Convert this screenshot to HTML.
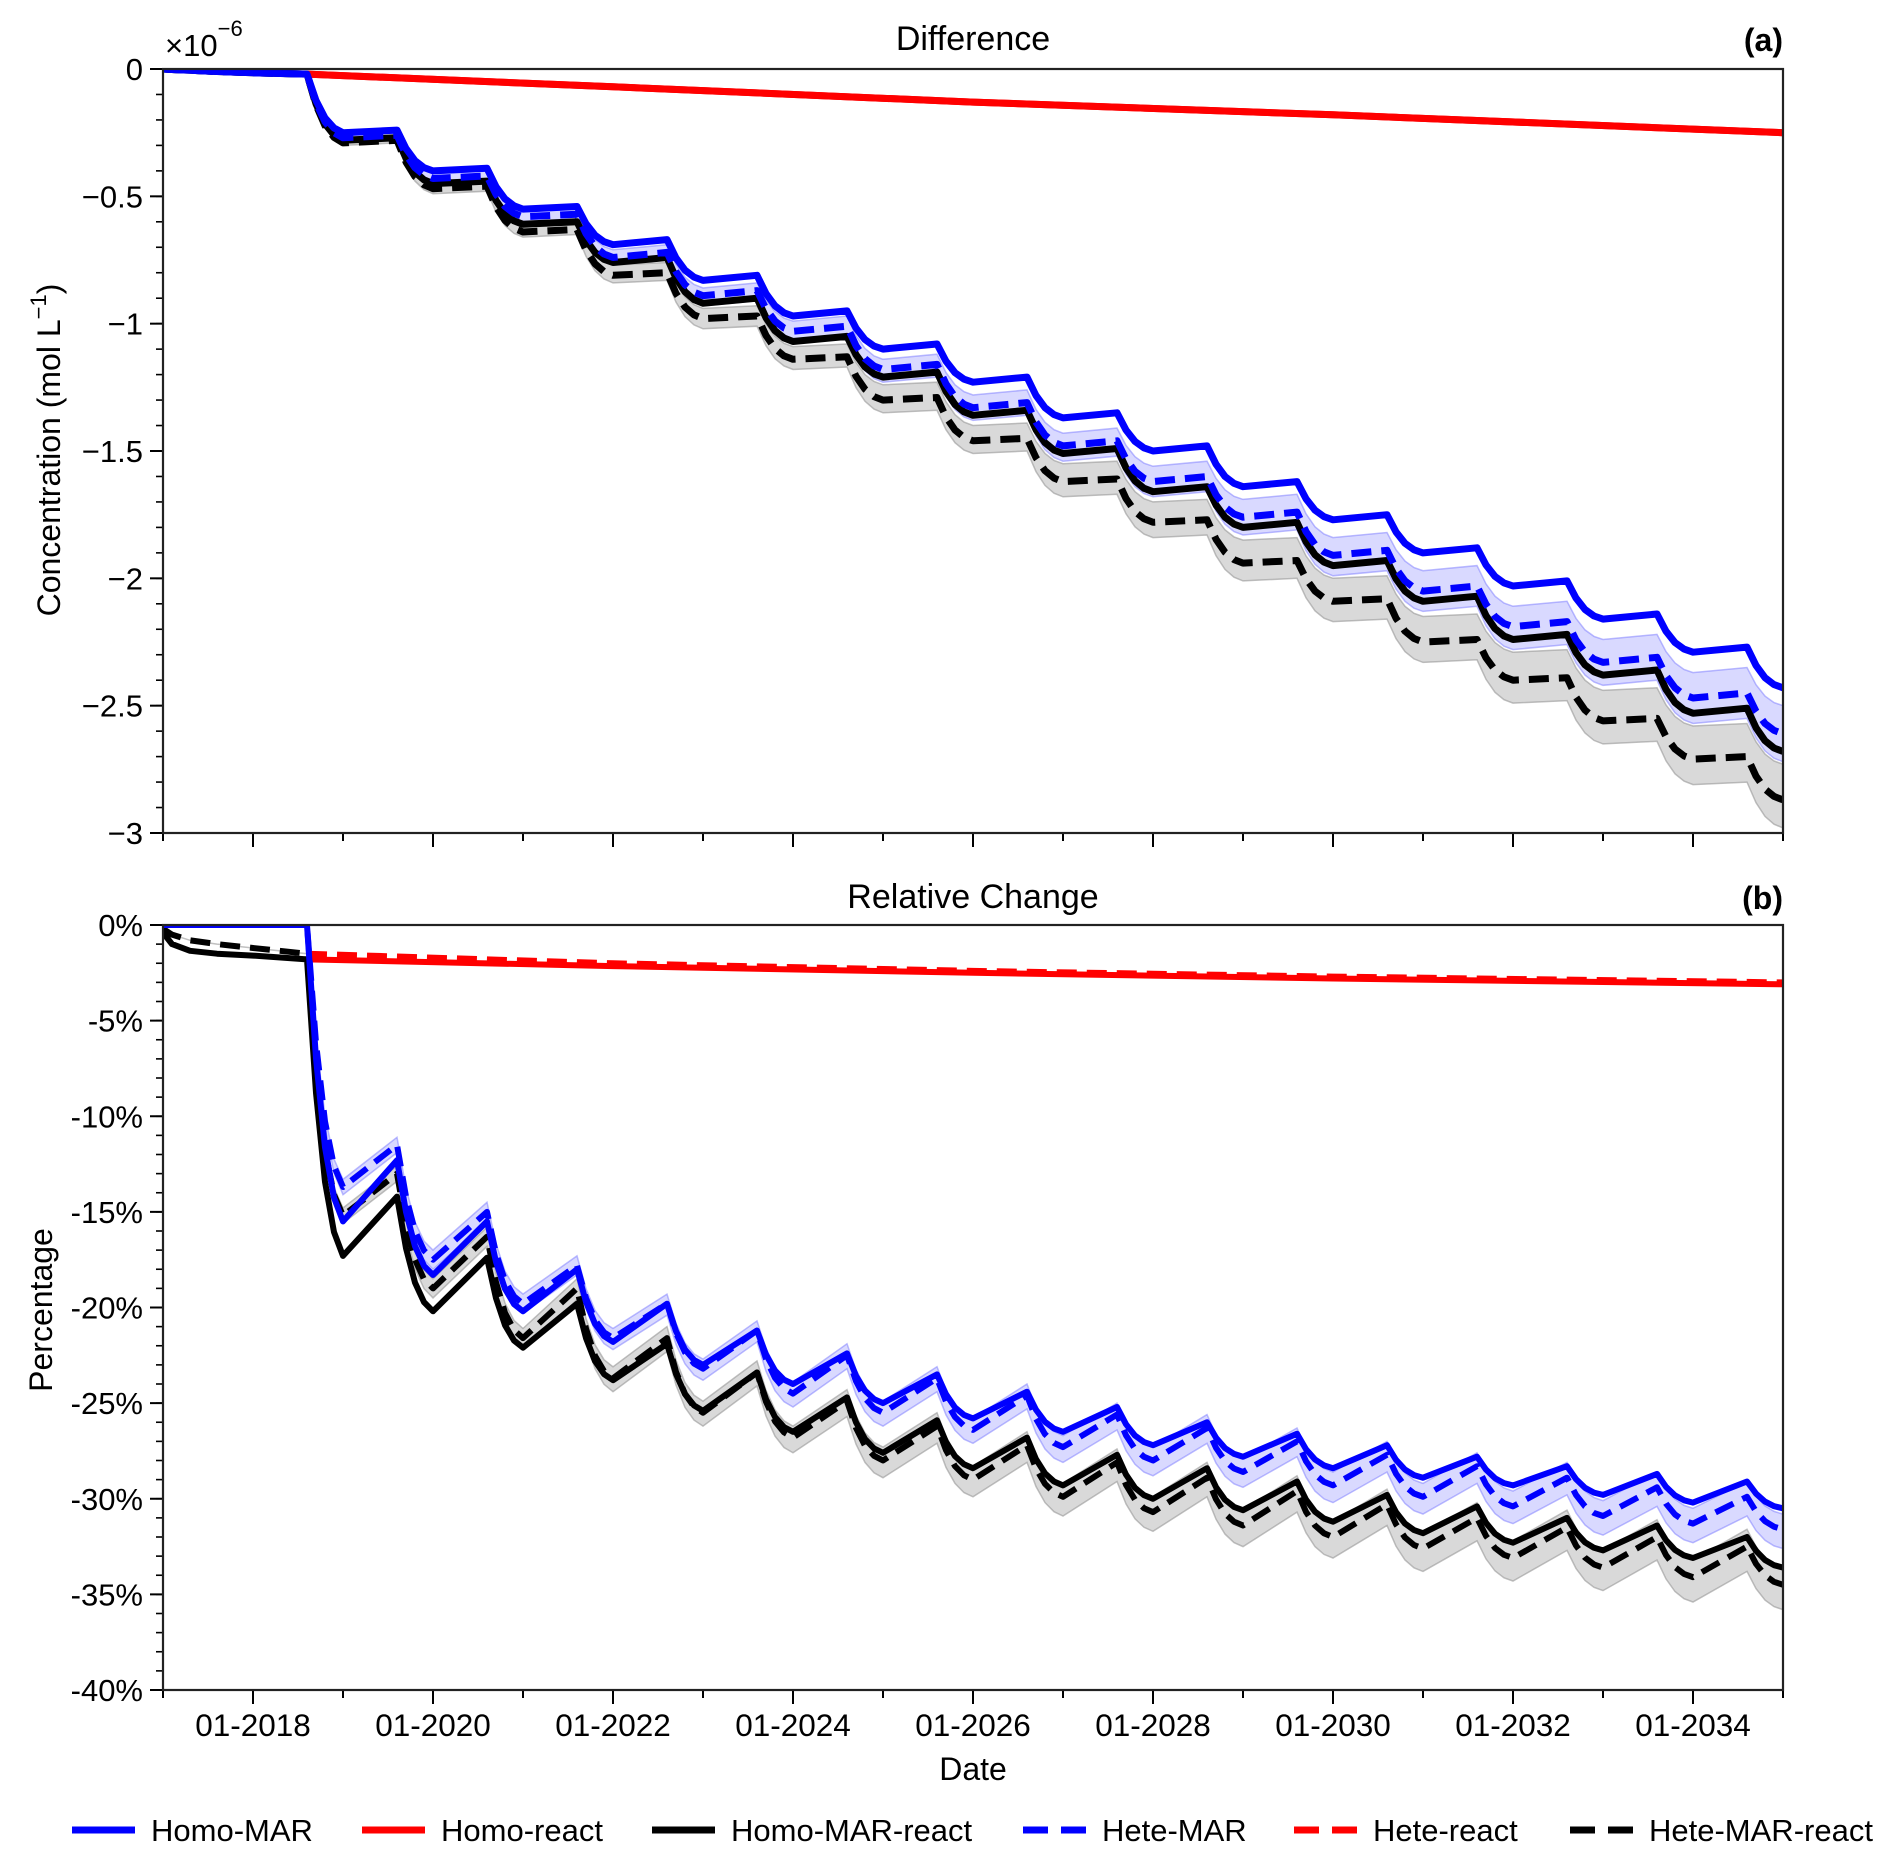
<!DOCTYPE html>
<html><head><meta charset="utf-8"><title>Difference and Relative Change</title>
<style>
html,body{margin:0;padding:0;background:#fff;}
svg{display:block;font-family:"Liberation Sans",Arial,sans-serif;}
</style></head>
<body>
<svg id="fig" width="1892" height="1860" viewBox="0 0 1892 1860" xmlns="http://www.w3.org/2000/svg">
<g id="panelA"></g>
<g id="panelB"></g>
<g id="legend"></g>
</svg>
<script>
// ---------- DATA ----------
const xTickYears = [2018,2020,2022,2024,2026,2028,2030,2032,2034];
const xTickLabels = ["01-2018","01-2020","01-2022","01-2024","01-2026","01-2028","01-2030","01-2032","01-2034"];
const preT = [2017,2017.1,2017.3,2017.6,2018.0,2018.6];
const minYears = [2019,2020,2021,2022,2023,2024,2025,2026,2027,2028,2029,2030,2031,2032,2033,2034,2035];
const peakYears = [2019.6,2020.6,2021.6,2022.6,2023.6,2024.6,2025.6,2026.6,2027.6,2028.6,2029.6,2030.6,2031.6,2032.6,2033.6,2034.6];

// Panel (a) : x1e-6 mol/L
const aTickVals = [0,-0.5,-1,-1.5,-2,-2.5,-3];
const aTickLabels = ["0","\u22120.5","\u22121","\u22121.5","\u22122","\u22122.5","\u22123"];
const aPre = [0,-0.002,-0.005,-0.01,-0.015,-0.02];
const aHomoMarMin  = [-0.25,-0.40,-0.55,-0.69,-0.83,-0.97,-1.10,-1.23,-1.37,-1.50,-1.64,-1.77,-1.90,-2.03,-2.16,-2.29,-2.43];
const aHomoMarPeak = [-0.24,-0.39,-0.54,-0.67,-0.81,-0.95,-1.08,-1.21,-1.35,-1.48,-1.62,-1.75,-1.88,-2.01,-2.14,-2.27];
const aHeteMarMin  = [-0.27,-0.43,-0.58,-0.74,-0.89,-1.03,-1.18,-1.33,-1.48,-1.62,-1.76,-1.91,-2.05,-2.19,-2.33,-2.47,-2.61];
const aHeteMarPeak = [-0.26,-0.42,-0.57,-0.72,-0.87,-1.01,-1.16,-1.31,-1.46,-1.60,-1.74,-1.89,-2.03,-2.17,-2.31,-2.45];
const aHomoMarReactMin  = [-0.28,-0.45,-0.61,-0.76,-0.92,-1.07,-1.21,-1.36,-1.51,-1.66,-1.80,-1.95,-2.09,-2.24,-2.38,-2.53,-2.68];
const aHomoMarReactPeak = [-0.27,-0.44,-0.60,-0.74,-0.90,-1.05,-1.19,-1.34,-1.49,-1.64,-1.78,-1.93,-2.07,-2.22,-2.36,-2.51];
const aHeteMarReactMin  = [-0.29,-0.47,-0.64,-0.81,-0.98,-1.14,-1.30,-1.46,-1.62,-1.78,-1.94,-2.09,-2.25,-2.40,-2.56,-2.71,-2.87];
const aHeteMarReactPeak = [-0.28,-0.46,-0.63,-0.80,-0.97,-1.13,-1.29,-1.45,-1.61,-1.77,-1.93,-2.08,-2.24,-2.39,-2.55,-2.70];
const aBlueUp = [0.01,0.02,0.02,0.03,0.03,0.04,0.04,0.05,0.05,0.06,0.07,0.07,0.08,0.08,0.09,0.10,0.11];
const aBlueDn = [0.01,0.02,0.02,0.03,0.04,0.04,0.05,0.05,0.06,0.06,0.07,0.08,0.08,0.09,0.09,0.10,0.11];
const aGreyUp = [0.01,0.02,0.03,0.04,0.04,0.05,0.06,0.06,0.07,0.08,0.09,0.09,0.10,0.11,0.12,0.13,0.14];
const aGreyDn = [0.01,0.02,0.02,0.03,0.04,0.04,0.05,0.05,0.06,0.06,0.07,0.08,0.08,0.09,0.09,0.10,0.11];
const redT = [2018.6,2022,2026,2030,2035];
const aHomoReact = [-0.02,-0.07,-0.13,-0.18,-0.25];
const aHeteReact = [-0.02,-0.07,-0.13,-0.18,-0.25];

// Panel (b) : percent
const bTickVals = [0,-5,-10,-15,-20,-25,-30,-35,-40];
const bTickLabels = ["0%","-5%","-10%","-15%","-20%","-25%","-30%","-35%","-40%"];
const bHomoMarPre = [0,0,0,0,0,0];
const bHeteMarPre = [0,0,0,0,0,0];
const bHomoMarReactPre = [-0.4,-1.0,-1.35,-1.5,-1.6,-1.8];
const bHeteMarReactPre = [-0.2,-0.5,-0.8,-1.0,-1.2,-1.5];
const bHomoMarMin  = [-15.5,-18.3,-20.2,-21.8,-23.0,-24.0,-25.0,-25.8,-26.5,-27.2,-27.8,-28.4,-28.9,-29.3,-29.8,-30.2,-30.5];
const bHomoMarPeak = [-12.3,-15.5,-18.0,-19.8,-21.2,-22.4,-23.5,-24.4,-25.2,-26.0,-26.6,-27.2,-27.8,-28.3,-28.7,-29.1];
const bHeteMarMin  = [-13.7,-17.5,-19.8,-21.6,-23.2,-24.5,-25.5,-26.4,-27.3,-28.0,-28.6,-29.3,-29.9,-30.4,-30.9,-31.3,-31.6];
const bHeteMarPeak = [-11.5,-15.0,-17.8,-19.8,-21.2,-22.5,-23.7,-24.6,-25.6,-26.3,-27.0,-27.7,-28.3,-28.9,-29.4,-29.9];
const bHomoMarReactMin  = [-17.3,-20.2,-22.1,-23.8,-25.4,-26.5,-27.6,-28.4,-29.3,-30.0,-30.6,-31.2,-31.8,-32.3,-32.7,-33.1,-33.6];
const bHomoMarReactPeak = [-14.2,-17.4,-19.8,-21.9,-23.4,-24.7,-25.9,-26.8,-27.7,-28.4,-29.1,-29.8,-30.4,-31.0,-31.4,-32.0];
const bHeteMarReactMin  = [-15.2,-19.0,-21.6,-23.7,-25.5,-26.8,-28.0,-29.0,-29.9,-30.7,-31.4,-32.0,-32.6,-33.1,-33.6,-34.1,-34.5];
const bHeteMarReactPeak = [-13.0,-16.3,-19.0,-21.6,-23.4,-24.9,-26.2,-27.2,-28.1,-28.9,-29.6,-30.3,-31.0,-31.5,-32.0,-32.5];
const bBlueUp = [0.4,0.5,0.5,0.5,0.5,0.6,0.6,0.6,0.6,0.7,0.7,0.7,0.7,0.8,0.8,0.8,0.8];
const bBlueDn = [0.4,0.5,0.5,0.6,0.6,0.7,0.7,0.7,0.8,0.8,0.8,0.9,0.9,0.9,1.0,1.0,1.0];
const bGreyUp = [0.4,0.5,0.5,0.6,0.6,0.6,0.7,0.7,0.7,0.8,0.8,0.8,0.8,0.9,0.9,0.9,0.9];
const bGreyDn = [0.4,0.5,0.6,0.7,0.7,0.8,0.9,0.9,1.0,1.0,1.1,1.1,1.2,1.2,1.2,1.3,1.3];
const bHomoReact = [-1.8,-2.15,-2.5,-2.8,-3.1];
const bHeteReact = [-1.5,-2.0,-2.4,-2.7,-3.0];

const legendLabels = ["Homo-MAR","Homo-react","Homo-MAR-react","Hete-MAR","Hete-react","Hete-MAR-react"];

// ---------- LAYOUT ----------
const NS = "http://www.w3.org/2000/svg";
const X0 = 163, X1 = 1783, T0 = 2017, T1 = 2035;
function sx(t){ return X0 + (t - T0) / (T1 - T0) * (X1 - X0); }
function makeY(top, bottom, vmax, vmin){ return v => top + (vmax - v) / (vmax - vmin) * (bottom - top); }
const PA = {top:69, bottom:833, sy: makeY(69,833,0,-3)};
const PB = {top:925, bottom:1690, sy: makeY(925,1690,0,-40)};

function el(tag, attrs, parent){
  const e = document.createElementNS(NS, tag);
  for (const k in attrs) e.setAttribute(k, attrs[k]);
  if (parent) parent.appendChild(e);
  return e;
}
const dT = [0.1,0.2,0.3,0.4];
const dF = [0.45,0.75,0.92,1.0];

function seriesPts(pre, mins, peaks){
  const pts = [];
  for (let i=0;i<preT.length;i++) pts.push([preT[i], pre[i]]);
  let t0 = 2018.6, v0 = pre[pre.length-1];
  for (let i=0;i<minYears.length;i++){
    const v1 = mins[i];
    for (let k=0;k<dT.length;k++) pts.push([t0 + dT[k], v0 + (v1 - v0) * dF[k]]);
    if (i < peaks.length){ pts.push([peakYears[i], peaks[i]]); t0 = peakYears[i]; v0 = peaks[i]; }
  }
  return pts;
}
function bandPts(mins, peaks, up, dn, pre){
  const upper = seriesPts(pre, mins.map((v,i)=>v+up[i]), peaks.map((v,i)=>v+up[i]));
  const lower = seriesPts(pre, mins.map((v,i)=>v-dn[i]), peaks.map((v,i)=>v-dn[i]));
  return {upper, lower};
}
function toPath(pts, sy){ return pts.map((p,i)=>(i?"L":"M")+sx(p[0]).toFixed(1)+","+sy(p[1]).toFixed(1)).join(""); }

function drawAxes(g, P, vals, labels, minorStep, vmin){
  for (let v=0; v>=vmin-1e-9; v-=minorStep){
    el("line",{x1:X0-7,x2:X0,y1:P.sy(v),y2:P.sy(v),stroke:"#000","stroke-width":1.6},g);
  }
  vals.forEach((v,i)=>{
    const tk = el("line",{x1:X0-13,x2:X0,y1:P.sy(v),y2:P.sy(v),stroke:"#000","stroke-width":2},g);
    
    
    const tx = el("text",{x:X0-20,y:P.sy(v)+11,"text-anchor":"end","font-size":31,fill:"#000"},g);
    
    
    tx.textContent = labels[i];
  });
  for (let yr=2017; yr<=2035; yr++){
    const major = xTickYears.indexOf(yr) >= 0;
    const tk = el("line",{x1:sx(yr),x2:sx(yr),y1:P.bottom,y2:P.bottom+(major?14:8),stroke:"#000","stroke-width":2},g);
    
    
  }
}
function drawFrame(g, P){
  const r = el("rect",{x:X0,y:P.top,width:X1-X0,height:P.bottom-P.top,fill:"none",stroke:"#222","stroke-width":2.2},g);
  
  
}
function drawBand(g, P, b, fill, stroke, name){
  const d = toPath(b.upper, P.sy) + b.lower.slice().reverse().map(p=>"L"+sx(p[0]).toFixed(1)+","+P.sy(p[1]).toFixed(1)).join("") + "Z";
  const p = el("path",{d, fill, stroke, "stroke-width":1.5},g);
  
  
}
function drawLine(g, P, pts, color, dashed, w, name){
  const p = el("path",{d:toPath(pts,P.sy),fill:"none",stroke:color,"stroke-width":w,"stroke-linejoin":"round"},g);
  if (dashed) p.setAttribute("stroke-dasharray","20 10");
  
  
}
function redPts(vals){ return redT.map((t,i)=>[t, vals[i]]); }

// ---------- PANEL A ----------
(function(){
  const g = document.getElementById("panelA");
  const P = PA;
  const clip = el("clipPath",{id:"clipA"},g);
  el("rect",{x:X0,y:P.top,width:X1-X0,height:P.bottom-P.top},clip);
  const plot = el("g",{"clip-path":"url(#clipA)"},g);
  
  
  drawBand(plot,P,bandPts(aHeteMarMin,aHeteMarPeak,aBlueUp,aBlueDn,aPre),"rgba(0,0,255,0.15)","rgba(120,120,255,0.5)","band-hete-mar");
  drawBand(plot,P,bandPts(aHeteMarReactMin,aHeteMarReactPeak,aGreyUp,aGreyDn,aPre),"rgba(0,0,0,0.15)","rgba(150,150,150,0.6)","band-hete-mar-react");
  drawLine(plot,P,redPts(aHeteReact),"#ff0000",false,7,"line-hete-react");
  drawLine(plot,P,seriesPts(aPre,aHeteMarReactMin,aHeteMarReactPeak),"#000",true,7,"line-hete-mar-react");
  drawLine(plot,P,seriesPts(aPre,aHomoMarReactMin,aHomoMarReactPeak),"#000",false,7,"line-homo-mar-react");
  drawLine(plot,P,seriesPts(aPre,aHeteMarMin,aHeteMarPeak),"#0000ff",true,7,"line-hete-mar");
  drawLine(plot,P,redPts(aHomoReact),"#ff0000",false,7,"line-homo-react");
  drawLine(plot,P,seriesPts(aPre,aHomoMarMin,aHomoMarPeak),"#0000ff",false,7,"line-homo-mar");
  drawAxes(g,P,aTickVals,aTickLabels,0.1,-3);
  drawFrame(g,P);
  const t = el("text",{x:973,y:50,"text-anchor":"middle","font-size":34},g);
   
  t.textContent = "Difference";
  const l = el("text",{x:1783,y:51,"text-anchor":"end","font-size":32,"font-weight":"bold"},g);
   
  l.textContent = "(a)";
  const m = el("text",{x:165,y:56,"font-size":31},g);
   
  m.innerHTML = '\u00d710<tspan dy="-20" font-size="22">\u22126</tspan>';
  const yl = el("text",{x:0,y:0,"text-anchor":"middle","font-size":32,transform:"translate(60,450) rotate(-90)"},g);
   
  yl.innerHTML = 'Concentration (mol L<tspan dy="-14" font-size="22">\u22121</tspan><tspan dy="14">)</tspan>';
})();

// ---------- PANEL B ----------
(function(){
  const g = document.getElementById("panelB");
  const P = PB;
  const clip = el("clipPath",{id:"clipB"},g);
  el("rect",{x:X0,y:P.top,width:X1-X0,height:P.bottom-P.top},clip);
  const plot = el("g",{"clip-path":"url(#clipB)"},g);
  
  
  drawBand(plot,P,bandPts(bHeteMarMin,bHeteMarPeak,bBlueUp,bBlueDn,bHeteMarPre),"rgba(0,0,255,0.15)","rgba(120,120,255,0.5)","band-hete-mar");
  drawBand(plot,P,bandPts(bHeteMarReactMin,bHeteMarReactPeak,bGreyUp,bGreyDn,bHeteMarReactPre),"rgba(0,0,0,0.15)","rgba(150,150,150,0.6)","band-hete-mar-react");
  drawLine(plot,P,redPts(bHomoReact),"#ff0000",false,6,"line-homo-react");
  drawLine(plot,P,redPts(bHeteReact),"#ff0000",true,6,"line-hete-react");
  drawLine(plot,P,seriesPts(bHomoMarReactPre,bHomoMarReactMin,bHomoMarReactPeak),"#000",false,6,"line-homo-mar-react");
  drawLine(plot,P,seriesPts(bHeteMarReactPre,bHeteMarReactMin,bHeteMarReactPeak),"#000",true,6,"line-hete-mar-react");
  drawLine(plot,P,seriesPts(bHomoMarPre,bHomoMarMin,bHomoMarPeak),"#0000ff",false,6,"line-homo-mar");
  drawLine(plot,P,seriesPts(bHeteMarPre,bHeteMarMin,bHeteMarPeak),"#0000ff",true,6,"line-hete-mar");
  drawAxes(g,P,bTickVals,bTickLabels,1,-40);
  drawFrame(g,P);
  xTickYears.forEach((yr,i)=>{
    const tx = el("text",{x:sx(yr),y:1736,"text-anchor":"middle","font-size":31.5},g);
    
    
    tx.textContent = xTickLabels[i];
  });
  const t = el("text",{x:973,y:908,"text-anchor":"middle","font-size":34},g);
   
  t.textContent = "Relative Change";
  const l = el("text",{x:1783,y:909,"text-anchor":"end","font-size":32,"font-weight":"bold"},g);
   
  l.textContent = "(b)";
  const xl = el("text",{x:973,y:1780,"text-anchor":"middle","font-size":32},g);
   
  xl.textContent = "Date";
  const yl = el("text",{x:0,y:0,"text-anchor":"middle","font-size":32,transform:"translate(52,1310) rotate(-90)"},g);
   
  yl.textContent = "Percentage";
})();

// ---------- LEGEND ----------
(function(){
  const g = document.getElementById("legend");
  const colors = ["#0000ff","#ff0000","#000","#0000ff","#ff0000","#000"];
  const dashed = [false,false,false,true,true,true];
  const lx = [72,362,652,1023,1294,1570];
  legendLabels.forEach((lab,i)=>{
    const e = el("g",{},g);
    
    
    const ln = el("line",{x1:lx[i],x2:lx[i]+63,y1:1830,y2:1830,stroke:colors[i],"stroke-width":7},e);
    if (dashed[i]) ln.setAttribute("stroke-dasharray","25 13");
    const tx = el("text",{x:lx[i]+79,y:1841,"font-size":31},e);
    tx.textContent = lab;
  });
})();
</script>
</body></html>
